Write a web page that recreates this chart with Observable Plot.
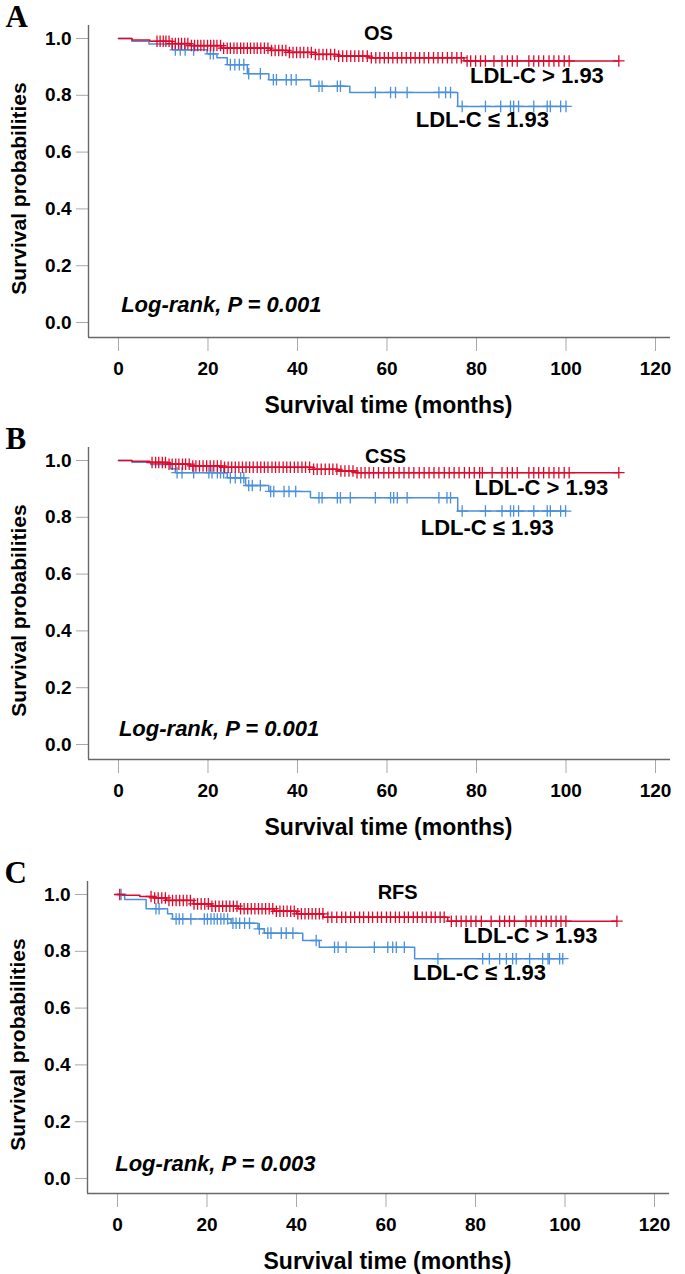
<!DOCTYPE html>
<html>
<head>
<meta charset="utf-8">
<script src="https://cdn.jsdelivr.net/npm/d3@7"></script>
<script src="https://cdn.jsdelivr.net/npm/@observablehq/plot@0.6"></script>
<style>
  html, body { margin: 0; padding: 0; background: #fff; overflow: hidden; }
  #wrap { position: relative; width: 685px; height: 1274px; }
  #wrap svg { position: absolute; }
</style>
</head>
<body>
<div id="wrap"></div>
<script>
// ---------- shared tick labels ----------
const xTicks = [0, 20, 40, 60, 80, 100, 120];
const yTicks = [0, 0.2, 0.4, 0.6, 0.8, 1.0];
const panelLetters = ["A", "B", "C"];
const panelTitles = ["OS", "CSS", "RFS"];
const pLabels = ["Log-rank, P = 0.001", "Log-rank, P = 0.001", "Log-rank, P = 0.003"];
const groupHigh = "LDL-C > 1.93";
const groupLow = "LDL-C \u2264 1.93";

// ---------- Panel A: OS ----------
const osHighTimes = [0, 3, 7, 12, 16, 23, 34, 38, 44, 49, 56, 77.2, 111.8];
const osHighSurv  = [1.0, 0.995, 0.990, 0.982, 0.975, 0.966, 0.958, 0.951, 0.944, 0.938, 0.932, 0.921, 0.921];
const osHighCensor = [8.6, 9.3, 10, 10.6, 11.3, 12, 12.7, 13.4, 14.1, 14.8, 15.5, 16.3, 17, 17.7, 18.4, 19.1, 19.9, 20.6, 21.3, 22, 22.8, 23.5, 24.3, 25, 25.8, 26.5, 27.3, 28, 28.8, 29.5, 30.3, 31, 31.8, 32.6, 33.4, 34.2, 35, 35.8, 36.6, 37.4, 38.2, 39, 39.8, 40.6, 41.4, 42.3, 43.1, 44, 44.8, 45.7, 46.5, 47.4, 48.3, 49.2, 50.1, 51, 51.9, 52.8, 53.7, 54.6, 55.6, 56.5, 57.5, 58.4, 59.4, 60.3, 61.3, 62.3, 63.3, 64.3, 65.3, 66.3, 67.3, 68.3, 69.3, 70.4, 71.4, 72.4, 73.5, 74.5, 75.6, 76.6, 77.9, 78.7, 79.8, 80.9, 82, 83.9, 85.7, 86.9, 88, 89.1, 91.7, 92.8, 93.9, 95, 96.2, 97.3, 98.4, 99.6, 100.7, 111.8];
const osLowTimes = [0, 3, 6.8, 12, 19.8, 22, 24.3, 28.8, 33.6, 42.9, 51.7, 75.8, 100];
const osLowSurv  = [1.0, 0.990, 0.981, 0.960, 0.946, 0.932, 0.908, 0.876, 0.855, 0.832, 0.810, 0.761, 0.761];
const osLowCensor = [12.7, 13.8, 14.9, 16.8, 20.5, 21.2, 25, 26, 27, 28, 29.1, 31.7, 34.6, 35.3, 37.5, 38.6, 39.7, 44.8, 45.5, 48.9, 49.6, 57.4, 60.8, 61.9, 64.5, 71.6, 73.1, 74.2, 76.8, 82, 85.4, 87.6, 88.3, 89.4, 92.8, 95.8, 96.5, 98.8, 100];

// ---------- Panel B: CSS ----------
const cssHighTimes = [0, 3, 7, 11, 16, 23, 43.5, 49, 53, 111.8];
const cssHighSurv  = [1.0, 0.997, 0.993, 0.987, 0.981, 0.976, 0.969, 0.963, 0.957, 0.957];
const cssHighCensor = [7.5, 8.3, 9, 9.8, 10.5, 11.3, 12, 12.8, 13.5, 14.3, 15, 15.8, 16.6, 17.3, 18.1, 18.9, 19.7, 20.5, 21.3, 22.1, 22.9, 23.7, 24.5, 25.3, 26.1, 26.9, 27.7, 28.5, 29.3, 30.1, 31, 31.8, 32.6, 33.4, 34.3, 35.1, 35.9, 36.8, 37.6, 38.4, 39.3, 40.1, 41, 41.8, 42.7, 43.6, 44.4, 45.3, 46.2, 47.1, 47.9, 48.8, 49.7, 50.6, 51.5, 52.4, 53.3, 54.2, 55.1, 56, 57, 58.1, 59.3, 60.4, 61.5, 62.7, 63.8, 64.9, 66, 67.2, 68.3, 69.4, 70.5, 71.6, 72.8, 73.9, 75, 76.1, 77.3, 78.4, 79.5, 80.7, 81.3, 83.5, 85.7, 86.9, 88, 89.1, 91.7, 92.8, 93.9, 95, 96.2, 97.3, 98.4, 99.6, 100.7, 111.8];
const cssLowTimes = [0, 3, 7.2, 11.6, 12.7, 24.3, 28.4, 33.6, 42.9, 75.8, 99.9];
const cssLowSurv  = [1.0, 0.994, 0.986, 0.971, 0.957, 0.939, 0.912, 0.891, 0.869, 0.822, 0.822];
const cssLowCensor = [13.1, 14.2, 16.8, 20.2, 20.9, 22.1, 22.8, 23.5, 25, 26.1, 27.3, 28, 29.1, 29.9, 31.7, 34, 34.7, 37, 38.1, 39.6, 44.8, 45.5, 48.9, 49.6, 51.8, 57.4, 60.8, 61.5, 62.3, 64.5, 71.6, 73.4, 74.2, 76.8, 82, 85.7, 87.6, 88.3, 89.4, 92.8, 95.8, 96.5, 98.8, 99.9];

// ---------- Panel C: RFS ----------
const rfsHighTimes = [0, 1, 5, 8, 11, 17, 21, 27, 35, 40, 46, 73.8, 111.6];
const rfsHighSurv  = [1.0, 0.997, 0.993, 0.988, 0.979, 0.967, 0.959, 0.950, 0.941, 0.932, 0.920, 0.906, 0.906];
const rfsHighCensor = [0.5, 7.5, 8.3, 9.1, 9.9, 10.7, 11.5, 12.3, 13.1, 13.9, 14.7, 15.5, 16.3, 17.1, 17.9, 18.7, 19.5, 20.3, 21.1, 21.9, 22.7, 23.5, 24.3, 25.1, 25.9, 26.7, 27.5, 28.3, 29.1, 29.9, 30.7, 31.5, 32.3, 33.1, 33.9, 34.7, 35.5, 36.3, 37.1, 37.9, 38.7, 39.5, 40.3, 41.1, 41.9, 42.7, 43.5, 44.3, 45.1, 45.9, 47, 47.9, 49, 50.1, 51, 52.1, 53, 54.1, 55, 56.1, 57, 58.1, 59, 60.1, 61, 62.1, 63, 64.1, 65, 66.1, 67, 68.1, 69, 70.1, 71, 72.1, 73, 74.6, 75.7, 76.8, 77.9, 79, 80.1, 81.3, 83.5, 85.4, 86.5, 87.6, 88.7, 91.3, 92.4, 93.5, 94.7, 95.8, 96.9, 98, 99.1, 100.2, 111.6];
const rfsLowTimes = [0, 1.6, 6.4, 11.2, 12.3, 25.4, 31.4, 32.8, 41.4, 45.1, 66.4, 99.5];
const rfsLowSurv  = [1.0, 0.982, 0.950, 0.932, 0.914, 0.899, 0.879, 0.864, 0.838, 0.814, 0.774, 0.774];
const rfsLowCensor = [0.8, 8.6, 9.3, 13.1, 13.8, 14.6, 16.4, 19.4, 20.1, 20.9, 21.6, 22.3, 23.1, 23.8, 24.6, 25.8, 26.5, 27.3, 28.4, 29.5, 31.7, 33.6, 34.3, 36.6, 37.7, 39.2, 44.4, 48.5, 49.3, 51.1, 57.4, 60.4, 61.5, 62.3, 64.1, 71.6, 81.6, 83.1, 85.4, 86.9, 88.3, 89.1, 92.1, 95, 96.2, 96.5, 98.8, 99.5];

// ---------- styling ----------
const colHigh = "#de0a2c";
const colLow = "#4a90dc";
const axisLineColor = "#686868";
const tickColor = "#a8a8a8";
const sans = "'Liberation Sans', Arial, sans-serif";
const serif = "'Liberation Serif', 'Times New Roman', serif";

const panels = [
  {high: [osHighTimes, osHighSurv, osHighCensor], low: [osLowTimes, osLowSurv, osLowCensor],
   top: 0, left: 0,
   titlePos: [58.1, 1.016], highPos: [93.5, 0.868], lowPos: [81.3, 0.713], pPos: [0.6, 0.062]},
  {high: [cssHighTimes, cssHighSurv, cssHighCensor], low: [cssLowTimes, cssLowSurv, cssLowCensor],
   top: 421.5, left: 0,
   titlePos: [59.7, 1.014], highPos: [94.5, 0.903], lowPos: [82.4, 0.764], pPos: [0.1, 0.055]},
  {high: [rfsHighTimes, rfsHighSurv, rfsHighCensor], low: [rfsLowTimes, rfsLowSurv, rfsLowCensor],
   top: 856, left: -1,
   titlePos: [62.6, 1.008], highPos: [92.3, 0.853], lowPos: [80.9, 0.725], pPos: [-0.5, 0.052]}
];

function survAt(times, surv, t) {
  const i = d3.bisectRight(times, t) - 1;
  return surv[Math.max(0, i)];
}
function curve(times, surv) {
  return times.map((t, i) => ({t, s: surv[i]}));
}
function censor(times, surv, cens) {
  return cens.map(t => ({t, s: survAt(times, surv, t)}));
}

const xDom = [-6.7, 123.35];
const yDom = [-0.0528, 1.0458];
const wrap = document.getElementById("wrap");

panels.forEach((p, k) => {
  const [hT, hS, hC] = p.high;
  const [lT, lS, lC] = p.low;
  const chart = Plot.plot({
    width: 685,
    height: 420,
    marginLeft: 88,
    marginRight: 15,
    marginTop: 25,
    marginBottom: 83,
    x: {domain: xDom},
    y: {domain: yDom},
    style: {fontFamily: sans, background: "transparent", overflow: "visible", color: "black"},
    marks: [
      Plot.axisY({ticks: yTicks, tickFormat: d => d.toFixed(1), tickSize: 12, tickPadding: 5,
        stroke: tickColor, fill: "black", fontSize: 19, fontWeight: "bold", label: null}),
      Plot.axisX({ticks: xTicks, tickSize: 14, tickPadding: 10,
        stroke: tickColor, fill: "black", fontSize: 19, fontWeight: "bold", label: null}),
      Plot.ruleX([xDom[0]], {stroke: axisLineColor, strokeWidth: 1.4}),
      Plot.ruleY([yDom[0]], {stroke: axisLineColor, strokeWidth: 1.4}),
      // curves
      Plot.line(curve(lT, lS), {x: "t", y: "s", curve: "step-after", stroke: colLow, strokeWidth: 1.5}),
      Plot.line(curve(hT, hS), {x: "t", y: "s", curve: "step-after", stroke: colHigh, strokeWidth: 1.5}),
      Plot.dot(censor(lT, lS, lC), {x: "t", y: "s", symbol: "plus", r: 3.8, stroke: colLow, strokeWidth: 1.3}),
      Plot.dot(censor(hT, hS, hC), {x: "t", y: "s", symbol: "plus", r: 3.8, stroke: colHigh, strokeWidth: 1.3}),
      // annotations
      Plot.text([panelTitles[k]], {x: p.titlePos[0], y: p.titlePos[1], text: d => d,
        fontSize: 20, fontWeight: "bold", fill: "black", lineAnchor: "middle"}),
      Plot.text([groupHigh], {x: p.highPos[0], y: p.highPos[1], text: d => d,
        fontSize: 22, fontWeight: "bold", fill: "black", lineAnchor: "middle"}),
      Plot.text([groupLow], {x: p.lowPos[0], y: p.lowPos[1], text: d => d,
        fontSize: 22, fontWeight: "bold", fill: "black", lineAnchor: "middle"}),
      Plot.text([pLabels[k]], {x: p.pPos[0], y: p.pPos[1], text: d => d, textAnchor: "start",
        fontSize: 22, fontWeight: "bold", fontStyle: "italic", fill: "black", lineAnchor: "middle"}),
      // axis titles & panel letter
      Plot.text(["Survival probabilities"], {frameAnchor: "left", dx: -69, dy: 7, rotate: -90, text: d => d,
        fontSize: 21, fontWeight: "bold", fill: "black", lineAnchor: "middle", textAnchor: "middle"}),
      Plot.text(["Survival time (months)"], {frameAnchor: "bottom", dx: 9, dy: 68, text: d => d,
        fontSize: 23, fontWeight: "bold", fill: "black", lineAnchor: "middle"}),
      Plot.text([panelLetters[k]], {frameAnchor: "top-left", dx: -83, dy: -21, text: d => d,
        fontSize: 31, fontWeight: "bold", fontFamily: serif, fill: "black", lineAnchor: "top", textAnchor: "start"})
    ]
  });
  chart.style.top = p.top + "px";
  chart.style.left = p.left + "px";
  wrap.appendChild(chart);
});
</script>
</body>
</html>
